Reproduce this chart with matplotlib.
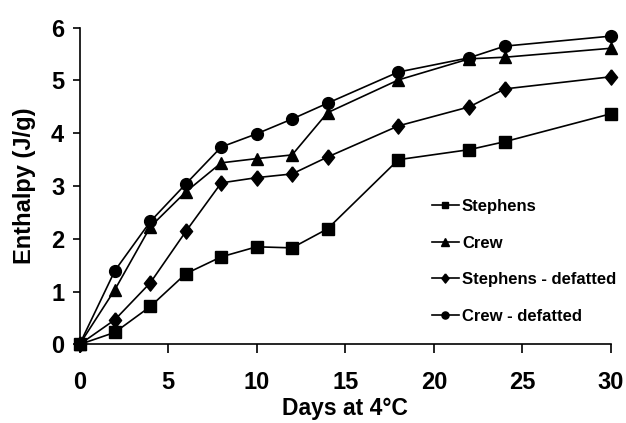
import matplotlib
matplotlib.use("Agg")
import matplotlib.pyplot as plt

plt.rcParams['font.family'] = ['Liberation Sans', 'DejaVu Sans']

days = [0, 2, 4, 6, 8, 10, 12, 14, 18, 22, 24, 30]
stephens = [0, 0.23, 0.72, 1.34, 1.66, 1.85, 1.83, 2.19, 3.50, 3.69, 3.84, 4.37]
crew = [0, 1.04, 2.23, 2.89, 3.44, 3.52, 3.59, 4.39, 5.01, 5.41, 5.44, 5.61]
stephens_defatted = [0, 0.47, 1.17, 2.14, 3.06, 3.16, 3.23, 3.55, 4.14, 4.50, 4.84, 5.07]
crew_defatted = [0, 1.40, 2.33, 3.04, 3.74, 3.99, 4.27, 4.57, 5.16, 5.43, 5.65, 5.84]

# slightly tall diamond like the original
diamond = [(0, 1), (0.8, 0), (0, -1), (-0.8, 0), (0, 1)]

series = [
    ("Stephens", stephens, "s", 8),
    ("Crew", crew, "^", 8.5),
    ("Stephens - defatted", stephens_defatted, diamond, 11),
    ("Crew - defatted", crew_defatted, "o", 8.5),
]

fig = plt.figure(figsize=(6.26, 4.23), dpi=100)
ax = fig.add_axes([0.127, 0.1856, 0.849, 0.749])

for name, vals, mk, ms in series:
    ax.plot(days, vals, color='black', lw=1.2, marker=mk, markersize=ms,
            label=name, clip_on=False)

ax.set_xlim(0, 30)
ax.set_ylim(0, 6)
ax.set_xticks(range(0, 31, 5))
ax.set_yticks(range(0, 7))
for s in ['top', 'right']:
    ax.spines[s].set_visible(False)
for s in ['left', 'bottom']:
    ax.spines[s].set_linewidth(1.2)
ax.tick_params(axis='x', direction='out', length=6.5, width=1.2, labelsize=17, pad=12.5)
ax.tick_params(axis='y', direction='out', length=5, width=1.2, labelsize=17, pad=6)
for lab in ax.get_xticklabels() + ax.get_yticklabels():
    lab.set_fontweight('bold')

ax.set_xlabel("Days at 4°C", fontsize=16.5, fontweight='bold', labelpad=2)
ax.set_ylabel("Enthalpy (J/g)", fontsize=17, fontweight='bold', labelpad=11)

leg = ax.legend(loc='upper left', bbox_to_anchor=(0.635, 0.507), frameon=False,
                handlelength=1.6, handletextpad=0.2, labelspacing=1.3,
                markerscale=0.6, prop={'size': 12, 'weight': 'bold'})

fig.savefig("out.png", dpi=100)
